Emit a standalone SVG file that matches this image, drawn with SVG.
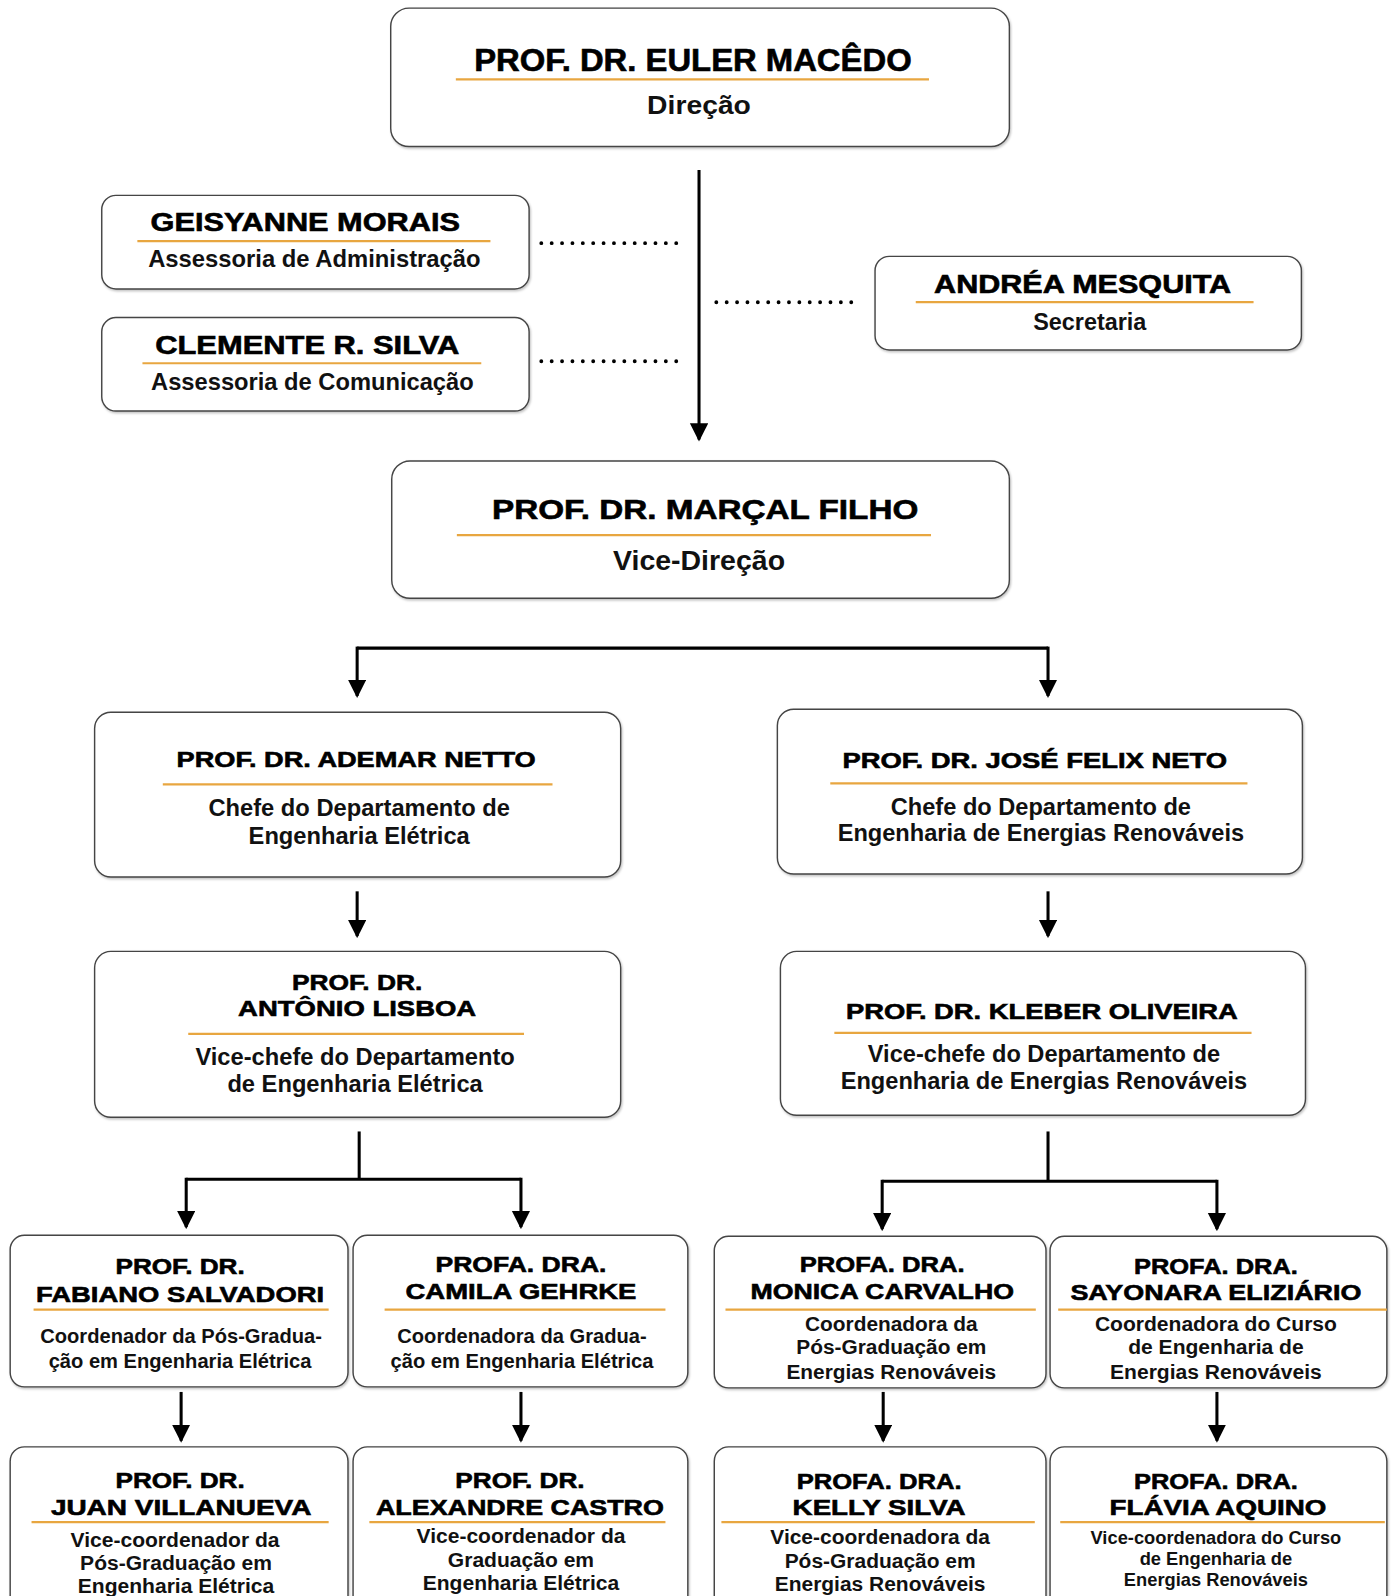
<svg xmlns="http://www.w3.org/2000/svg" width="1395" height="1596" viewBox="0 0 1395 1596">
<defs>
<marker id="ah" markerUnits="userSpaceOnUse" markerWidth="18" markerHeight="22" refX="16" refY="9" orient="auto">
<path d="M0,0 L18,9 L0,18 z" fill="#000"/>
</marker>
<filter id="sh" x="-5%" y="-5%" width="110%" height="115%">
<feDropShadow dx="1" dy="1.5" stdDeviation="1" flood-color="#000" flood-opacity="0.25"/>
</filter>
<style>
.box{fill:#fff;stroke:#444;stroke-width:1.4;filter:url(#sh)}
.ln{stroke:#e8a640;stroke-width:2.2}
.t{font-family:"Liberation Sans",Arial,sans-serif;font-weight:bold;fill:#000;stroke:#000;stroke-width:0.6;text-anchor:middle}
.s{font-family:"Liberation Sans",Arial,sans-serif;font-weight:bold;fill:#111;text-anchor:middle}
.c{fill:none;stroke:#000;stroke-width:3}
.d{fill:none;stroke:#000;stroke-width:3.8;stroke-linecap:round;stroke-dasharray:0 10.2}
</style>
</defs>
<rect width="1395" height="1596" fill="#fff"/>
<g transform="scale(1.0175)">

<g id="connectors">
<line class="c" x1="687" y1="167" x2="687" y2="432" marker-end="url(#ah)"/>
<line class="d" x1="532" y1="239" x2="672" y2="239"/>
<line class="d" x1="532" y1="355" x2="672" y2="355"/>
<line class="d" x1="704" y1="297" x2="843" y2="297"/>
<path class="c" d="M351,637 L1030,637"/>
<line class="c" x1="351" y1="635.5" x2="351" y2="684" marker-end="url(#ah)"/>
<line class="c" x1="1030" y1="635.5" x2="1030" y2="684" marker-end="url(#ah)"/>
<line class="c" x1="351" y1="876" x2="351" y2="920" marker-end="url(#ah)"/>
<line class="c" x1="1030" y1="876" x2="1030" y2="920" marker-end="url(#ah)"/>
<line class="c" x1="353" y1="1112" x2="353" y2="1159"/>
<path class="c" d="M183,1159 L512,1159"/>
<line class="c" x1="183" y1="1157.5" x2="183" y2="1206" marker-end="url(#ah)"/>
<line class="c" x1="512" y1="1157.5" x2="512" y2="1206" marker-end="url(#ah)"/>
<line class="c" x1="1030" y1="1112" x2="1030" y2="1161"/>
<path class="c" d="M867,1161 L1196,1161"/>
<line class="c" x1="867" y1="1159.5" x2="867" y2="1208" marker-end="url(#ah)"/>
<line class="c" x1="1196" y1="1159.5" x2="1196" y2="1208" marker-end="url(#ah)"/>
<line class="c" x1="178" y1="1368" x2="178" y2="1416" marker-end="url(#ah)"/>
<line class="c" x1="512" y1="1368" x2="512" y2="1416" marker-end="url(#ah)"/>
<line class="c" x1="868" y1="1368" x2="868" y2="1416" marker-end="url(#ah)"/>
<line class="c" x1="1196" y1="1368" x2="1196" y2="1416" marker-end="url(#ah)"/>
</g>

<g id="n-euler">
<rect class="box" x="384" y="8" width="608" height="136" rx="18"/>
<text class="t" x="681" y="70" font-size="30" textLength="430" lengthAdjust="spacingAndGlyphs">PROF. DR. EULER MACÊDO</text>
<line class="ln" x1="448" y1="78" x2="913" y2="78"/>
<text class="s" x="687" y="112" font-size="25" textLength="102" lengthAdjust="spacingAndGlyphs">Direção</text>
</g>

<g id="n-geisyanne">
<rect class="box" x="100" y="192" width="420" height="92" rx="14"/>
<text class="t" x="300" y="227" font-size="25" textLength="304" lengthAdjust="spacingAndGlyphs">GEISYANNE MORAIS</text>
<line class="ln" x1="135" y1="237" x2="482" y2="237"/>
<text class="s" x="309" y="262" font-size="23.4">Assessoria de Administração</text>
</g>

<g id="n-clemente">
<rect class="box" x="100" y="312" width="420" height="92" rx="14"/>
<text class="t" x="302" y="348" font-size="25" textLength="299" lengthAdjust="spacingAndGlyphs">CLEMENTE R. SILVA</text>
<line class="ln" x1="140" y1="357" x2="473" y2="357"/>
<text class="s" x="307" y="383" font-size="23.3">Assessoria de Comunicação</text>
</g>

<g id="n-andrea">
<rect class="box" x="860" y="252" width="419" height="92" rx="14"/>
<text class="t" x="1064" y="288" font-size="25" textLength="292" lengthAdjust="spacingAndGlyphs">ANDRÉA MESQUITA</text>
<line class="ln" x1="900" y1="297" x2="1232" y2="297"/>
<text class="s" x="1071" y="324" font-size="23">Secretaria</text>
</g>

<g id="n-marcal">
<rect class="box" x="385" y="453" width="607" height="135" rx="18"/>
<text class="t" x="693" y="510" font-size="28" textLength="419" lengthAdjust="spacingAndGlyphs">PROF. DR. MARÇAL FILHO</text>
<line class="ln" x1="449" y1="526" x2="915" y2="526"/>
<text class="s" x="687" y="560" font-size="28">Vice-Direção</text>
</g>

<g id="n-ademar">
<rect class="box" x="93" y="700" width="517" height="162" rx="16"/>
<text class="t" x="350" y="754" font-size="22" textLength="353" lengthAdjust="spacingAndGlyphs">PROF. DR. ADEMAR NETTO</text>
<line class="ln" x1="160" y1="771" x2="543" y2="771"/>
<text class="s" x="353" y="802" font-size="23.3">Chefe do Departamento de</text>
<text class="s" x="353" y="829" font-size="23.3">Engenharia Elétrica</text>
</g>

<g id="n-antonio">
<rect class="box" x="93" y="935" width="517" height="163" rx="16"/>
<text class="t" x="351" y="973" font-size="22" textLength="128" lengthAdjust="spacingAndGlyphs">PROF. DR.</text>
<text class="t" x="351" y="999" font-size="22" textLength="234" lengthAdjust="spacingAndGlyphs">ANTÔNIO LISBOA</text>
<line class="ln" x1="185" y1="1016" x2="515" y2="1016"/>
<text class="s" x="349" y="1047" font-size="23.3">Vice-chefe do Departamento</text>
<text class="s" x="349" y="1073" font-size="23.3">de Engenharia Elétrica</text>
</g>

<g id="n-jose">
<rect class="box" x="764" y="697" width="516" height="162" rx="16"/>
<text class="t" x="1017" y="755" font-size="22" textLength="378" lengthAdjust="spacingAndGlyphs">PROF. DR. JOSÉ FELIX NETO</text>
<line class="ln" x1="816" y1="770" x2="1226" y2="770"/>
<text class="s" x="1023" y="801" font-size="23.2">Chefe do Departamento de</text>
<text class="s" x="1023" y="827" font-size="23.2">Engenharia de Energias Renováveis</text>
</g>

<g id="n-kleber">
<rect class="box" x="767" y="935" width="516" height="161" rx="16"/>
<text class="t" x="1024" y="1001" font-size="22" textLength="385" lengthAdjust="spacingAndGlyphs">PROF. DR. KLEBER OLIVEIRA</text>
<line class="ln" x1="820" y1="1015" x2="1230" y2="1015"/>
<text class="s" x="1026" y="1044" font-size="23.2">Vice-chefe do Departamento de</text>
<text class="s" x="1026" y="1070" font-size="23.2">Engenharia de Energias Renováveis</text>
</g>

<g id="n-fabiano">
<rect class="box" x="10" y="1214" width="332" height="149" rx="14"/>
<text class="t" x="177" y="1252" font-size="22" textLength="127" lengthAdjust="spacingAndGlyphs">PROF. DR.</text>
<text class="t" x="177" y="1280" font-size="22" textLength="283" lengthAdjust="spacingAndGlyphs">FABIANO SALVADORI</text>
<line class="ln" x1="33" y1="1287" x2="323" y2="1287"/>
<text class="s" x="178" y="1320" font-size="19.8">Coordenador da Pós-Gradua-</text>
<text class="s" x="177" y="1344" font-size="19.8">ção em Engenharia Elétrica</text>
</g>

<g id="n-camila">
<rect class="box" x="347" y="1214" width="329" height="149" rx="14"/>
<text class="t" x="512" y="1250" font-size="22" textLength="168" lengthAdjust="spacingAndGlyphs">PROFA. DRA.</text>
<text class="t" x="512" y="1277" font-size="22" textLength="227" lengthAdjust="spacingAndGlyphs">CAMILA GEHRKE</text>
<line class="ln" x1="378" y1="1287" x2="654" y2="1287"/>
<text class="s" x="513" y="1320" font-size="19.8">Coordenadora da Gradua-</text>
<text class="s" x="513" y="1344" font-size="19.8">ção em Engenharia Elétrica</text>
</g>

<g id="n-monica">
<rect class="box" x="702" y="1215" width="326" height="149" rx="14"/>
<text class="t" x="867" y="1250" font-size="22" textLength="162" lengthAdjust="spacingAndGlyphs">PROFA. DRA.</text>
<text class="t" x="867" y="1277" font-size="22" textLength="259" lengthAdjust="spacingAndGlyphs">MONICA CARVALHO</text>
<line class="ln" x1="713" y1="1287" x2="1018" y2="1287"/>
<text class="s" x="876" y="1308" font-size="20.5">Coordenadora da</text>
<text class="s" x="876" y="1331" font-size="20.5">Pós-Graduação em</text>
<text class="s" x="876" y="1355" font-size="20.5">Energias Renováveis</text>
</g>

<g id="n-sayonara">
<rect class="box" x="1032" y="1215" width="331" height="149" rx="14"/>
<text class="t" x="1195" y="1252" font-size="22" textLength="161" lengthAdjust="spacingAndGlyphs">PROFA. DRA.</text>
<text class="t" x="1195" y="1278" font-size="22" textLength="286" lengthAdjust="spacingAndGlyphs">SAYONARA ELIZIÁRIO</text>
<line class="ln" x1="1040" y1="1287" x2="1363" y2="1287"/>
<text class="s" x="1195" y="1308" font-size="20.7">Coordenadora do Curso</text>
<text class="s" x="1195" y="1331" font-size="20.7">de Engenharia de</text>
<text class="s" x="1195" y="1355" font-size="20.7">Energias Renováveis</text>
</g>

<g id="n-juan">
<rect class="box" x="10" y="1422" width="332" height="200" rx="14"/>
<text class="t" x="177" y="1462" font-size="22" textLength="127" lengthAdjust="spacingAndGlyphs">PROF. DR.</text>
<text class="t" x="178" y="1489" font-size="22" textLength="256" lengthAdjust="spacingAndGlyphs">JUAN VILLANUEVA</text>
<line class="ln" x1="31" y1="1496" x2="323" y2="1496"/>
<text class="s" x="172" y="1520" font-size="20.7">Vice-coordenador da</text>
<text class="s" x="173" y="1543" font-size="20.7">Pós-Graduação em</text>
<text class="s" x="173" y="1566" font-size="20.7">Engenharia Elétrica</text>
</g>

<g id="n-alexandre">
<rect class="box" x="347" y="1422" width="329" height="200" rx="14"/>
<text class="t" x="511" y="1462" font-size="22" textLength="127" lengthAdjust="spacingAndGlyphs">PROF. DR.</text>
<text class="t" x="511" y="1489" font-size="22" textLength="283" lengthAdjust="spacingAndGlyphs">ALEXANDRE CASTRO</text>
<line class="ln" x1="363" y1="1496" x2="654" y2="1496"/>
<text class="s" x="512" y="1516" font-size="20.7">Vice-coordenador da</text>
<text class="s" x="512" y="1540" font-size="20.7">Graduação em</text>
<text class="s" x="512" y="1563" font-size="20.7">Engenharia Elétrica</text>
</g>

<g id="n-kelly">
<rect class="box" x="702" y="1422" width="326" height="200" rx="14"/>
<text class="t" x="864" y="1463" font-size="22" textLength="162" lengthAdjust="spacingAndGlyphs">PROFA. DRA.</text>
<text class="t" x="864" y="1489" font-size="22" textLength="170" lengthAdjust="spacingAndGlyphs">KELLY SILVA</text>
<line class="ln" x1="709" y1="1496" x2="1017" y2="1496"/>
<text class="s" x="865" y="1517" font-size="20.6">Vice-coordenadora da</text>
<text class="s" x="865" y="1541" font-size="20.6">Pós-Graduação em</text>
<text class="s" x="865" y="1564" font-size="20.6">Energias Renováveis</text>
</g>

<g id="n-flavia">
<rect class="box" x="1032" y="1422" width="331" height="200" rx="14"/>
<text class="t" x="1195" y="1463" font-size="22" textLength="161" lengthAdjust="spacingAndGlyphs">PROFA. DRA.</text>
<text class="t" x="1197" y="1489" font-size="22" textLength="213" lengthAdjust="spacingAndGlyphs">FLÁVIA AQUINO</text>
<line class="ln" x1="1042" y1="1496" x2="1361" y2="1496"/>
<text class="s" x="1195" y="1517" font-size="18">Vice-coordenadora do Curso</text>
<text class="s" x="1195" y="1538" font-size="18">de Engenharia de</text>
<text class="s" x="1195" y="1559" font-size="18">Energias Renováveis</text>
</g>
</g>
</svg>
